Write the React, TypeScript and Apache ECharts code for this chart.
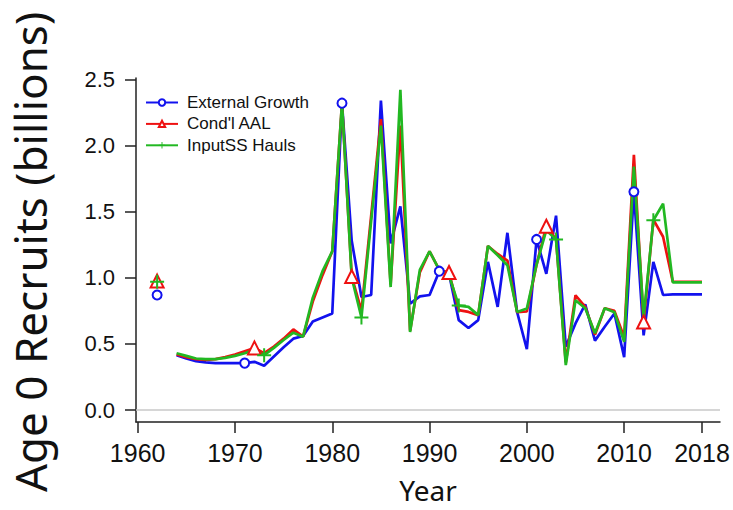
import React, { useEffect, useRef } from 'react';
import * as echarts from 'echarts';

// years 1962..2018, 1963 has no value (gap between the start point and the line)
const years: number[] = [];
for (let y = 1962; y <= 2018; y++) years.push(y);

const externalGrowth: (number | null)[] = [
  0.87, null,
  0.415, 0.39, 0.37, 0.36, 0.355, 0.355, 0.355, 0.355, 0.365, 0.335,
  0.405, 0.475, 0.54, 0.56, 0.67, 0.70, 0.73, 2.32, 1.28, 0.855,
  0.87, 2.34, 1.26, 1.54, 0.805, 0.86, 0.87, 1.05, 1.03, 0.68,
  0.62, 0.68, 1.12, 0.78, 1.34, 0.74, 0.46, 1.29, 1.03, 1.47,
  0.48, 0.655, 0.80, 0.525, 0.63, 0.73, 0.40, 1.65, 0.565, 1.12,
  0.87, 0.875, 0.875, 0.875, 0.875,
];

const condlAAL: (number | null)[] = [
  0.975, null,
  0.42, 0.40, 0.385, 0.38, 0.385, 0.40, 0.42, 0.445, 0.47, 0.43,
  0.48, 0.54, 0.61, 0.555, 0.82, 1.02, 1.2, 2.32, 1.01, 0.75,
  1.47, 2.2, 0.95, 2.15, 0.6, 1.04, 1.2, 1.06, 1.04, 0.755,
  0.742, 0.718, 1.24, 1.18, 1.13, 0.74, 0.745, 1.1, 1.39, 1.29,
  0.36, 0.868, 0.78, 0.57, 0.77, 0.75, 0.55, 1.93, 0.665, 1.44,
  1.31, 0.97, 0.97, 0.97, 0.97,
];

const inputSSHauls: (number | null)[] = [
  0.97, null,
  0.43, 0.41, 0.39, 0.385, 0.385, 0.395, 0.41, 0.43, 0.455, 0.415,
  0.47, 0.53, 0.585, 0.555, 0.85, 1.05, 1.2, 2.32, 1.0, 0.70,
  1.43, 2.15, 0.93, 2.42, 0.59, 1.06, 1.2, 1.06, 1.02, 0.79,
  0.78, 0.718, 1.24, 1.17, 1.095, 0.742, 0.768, 1.1, 1.36, 1.29,
  0.34, 0.83, 0.77, 0.58, 0.77, 0.74, 0.516, 1.84, 0.70, 1.435,
  1.56, 0.965, 0.965, 0.965, 0.965,
];

// years where each run shows its marker
const blueMarks = [1962, 1971, 1981, 1991, 2001, 2011];
const redMarks = [1962, 1972, 1982, 1992, 2002, 2012];
const greenMarks = [1962, 1973, 1983, 1993, 2003, 2013];

const xTicks = [1960, 1970, 1980, 1990, 2000, 2010, 2018];
const yTicks = [0, 0.5, 1, 1.5, 2, 2.5];

const PLUS = 'path://M6,0H8V6H14V8H8V14H6V8H0V6H6Z';

const toData = (vals: (number | null)[], marks: number[]) =>
  years.map((yr, i) => ({
    value: [yr, vals[i] == null ? '-' : vals[i]],
    symbol: marks.includes(yr) ? undefined : 'none',
  }));

const App: React.FC = () => {
  const ref = useRef<HTMLDivElement>(null);

  useEffect(() => {
    if (!ref.current) return;
    const chart = echarts.init(ref.current, undefined, { renderer: 'svg' });

    const tickFont = { fontFamily: 'Liberation Sans', color: '#111' };

    chart.setOption({
      animation: false,
      backgroundColor: '#fff',
      grid: { left: 136, right: 13, top: 78, bottom: 88 },
      legend: {
        left: 140,
        top: 89,
        orient: 'vertical',
        itemWidth: 32,
        itemHeight: 8,
        itemGap: 4.4,
        data: ['External Growth', "Cond'l AAL", 'InputSS Hauls'],
        textStyle: { fontFamily: 'Liberation Sans', fontSize: 17, color: '#111', padding: [0, 0, 0, 4] },
      },
      xAxis: {
        type: 'value',
        min: 1959.83,
        max: 2019.85,
        splitLine: { show: false },
        axisLine: { show: true, onZero: false, lineStyle: { color: '#222', width: 1.5 } },
        axisTick: { show: true, length: 11, customValues: xTicks, lineStyle: { color: '#222', width: 1.5 } },
        axisLabel: {
          customValues: xTicks,
          fontSize: 25,
          margin: 18,
          formatter: (v: number) => String(v),
          ...tickFont,
        },
      },
      yAxis: {
        type: 'value',
        min: -0.09,
        max: 2.51,
        splitLine: { show: false },
        axisLine: { show: true, lineStyle: { color: '#222', width: 1.5 } },
        axisTick: { show: true, length: 11, customValues: yTicks, lineStyle: { color: '#222', width: 1.5 } },
        axisLabel: {
          customValues: yTicks,
          fontSize: 22,
          margin: 21,
          formatter: (v: number) => v.toFixed(1),
          ...tickFont,
        },
      },
      graphic: [
        {
          type: 'text',
          x: 30,
          y: 252,
          rotation: Math.PI / 2,
          style: {
            text: 'Age 0 Recruits (billions)',
            font: '44px "Noto Sans"',
            fill: '#111',
            align: 'center',
            verticalAlign: 'middle',
          },
        },
        {
          type: 'text',
          x: 428,
          y: 490,
          style: {
            text: 'Year',
            font: '28px "Noto Sans"',
            fill: '#111',
            align: 'center',
            verticalAlign: 'middle',
          },
        },
      ],
      series: [
        {
          name: 'External Growth',
          type: 'line',
          data: toData(externalGrowth, blueMarks),
          color: '#1212ee',
          symbol: 'emptyCircle',
          symbolSize: 9,
          showAllSymbol: true,
          connectNulls: false,
          lineStyle: { width: 2.7 },
          itemStyle: { borderWidth: 2 },
          markLine: {
            silent: true,
            symbol: 'none',
            label: { show: false },
            lineStyle: { color: '#c8c8c8', width: 1.5, type: 'solid' },
            data: [{ yAxis: 0 }],
          },
        },
        {
          name: "Cond'l AAL",
          type: 'line',
          data: toData(condlAAL, redMarks),
          color: '#ee1111',
          symbol: 'emptyTriangle',
          symbolSize: 13,
          showAllSymbol: true,
          connectNulls: false,
          lineStyle: { width: 2.7 },
          itemStyle: { borderWidth: 2 },
        },
        {
          name: 'InputSS Hauls',
          type: 'line',
          data: toData(inputSSHauls, greenMarks),
          color: '#22b822',
          symbol: PLUS,
          symbolSize: 14,
          showAllSymbol: true,
          connectNulls: false,
          lineStyle: { width: 2.7 },
        },
      ],
    });

    return () => chart.dispose();
  }, []);

  return (
    <div
      ref={ref}
      style={{ position: 'absolute', left: 0, top: 0, width: 733, height: 510 }}
    />
  );
};

export default App;
